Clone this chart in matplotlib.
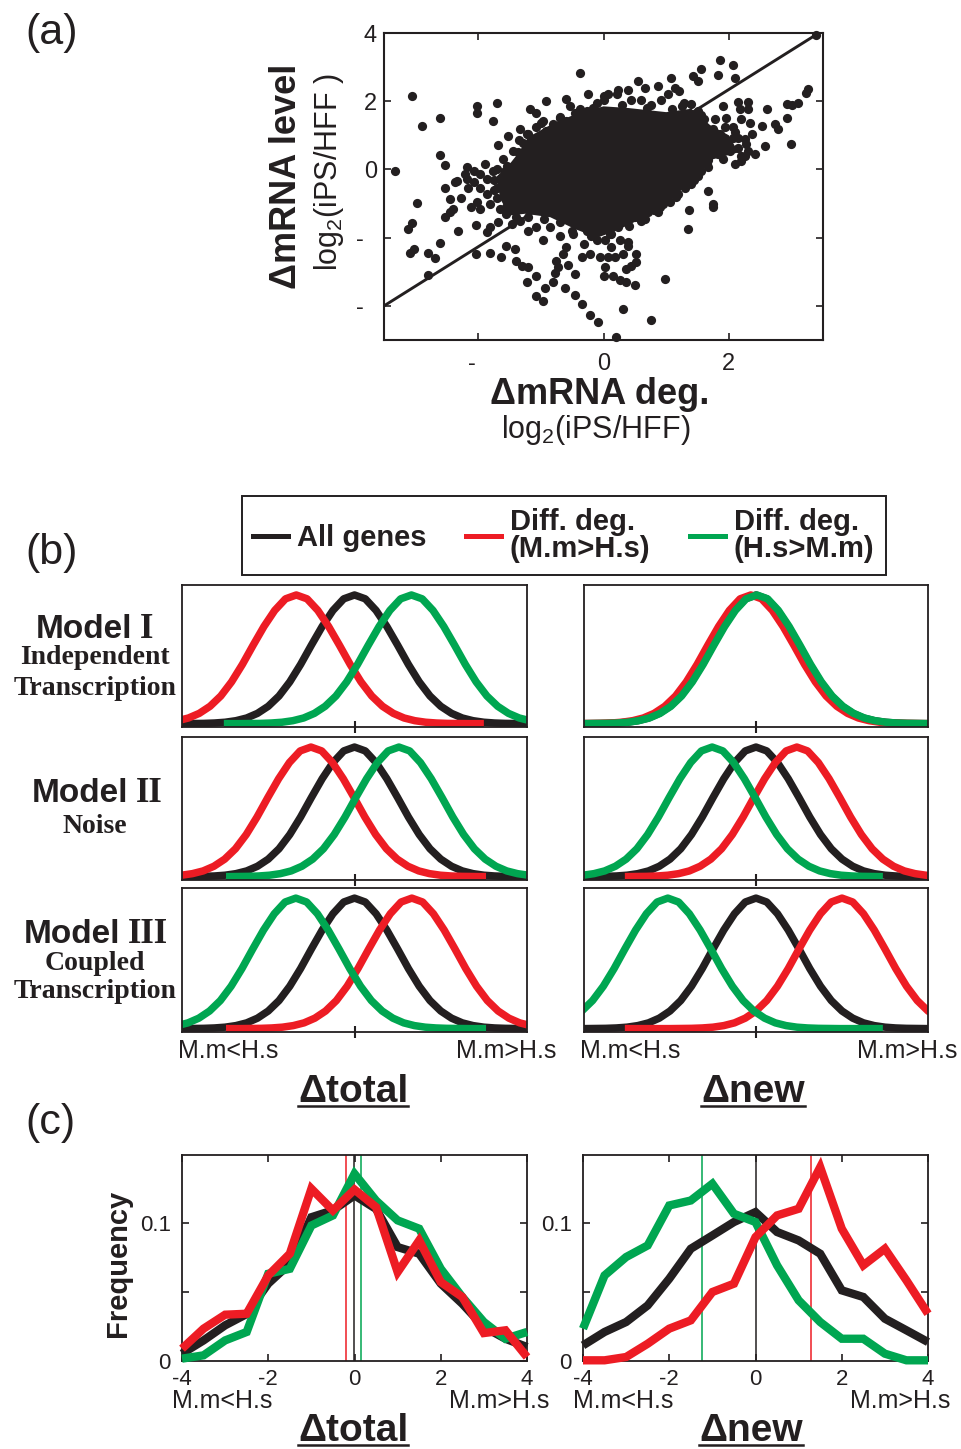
import numpy as np
import matplotlib
matplotlib.use('Agg')
import matplotlib.pyplot as plt
from matplotlib.lines import Line2D

W, H = 961, 1449
INK = '#231f20'
RED = '#ed1c24'
GREEN = '#00a651'

plt.rcParams['font.family'] = ['Liberation Sans', 'DejaVu Sans']
plt.rcParams['mathtext.fontset'] = 'custom'
plt.rcParams['mathtext.rm'] = 'Liberation Sans'
plt.rcParams['axes.unicode_minus'] = False
plt.rcParams['text.color'] = INK
plt.rcParams['axes.edgecolor'] = INK
plt.rcParams['xtick.color'] = INK
plt.rcParams['ytick.color'] = INK

# ---------------- (a) scatter: delta deg vs delta level ----------------
scatter_points = [
    (-3.33, -0.06), (-3.06, 2.15), (-2.90, 1.28), (-2.61, 1.52), (-2.61, 0.42), (-2.53, 0.13),
    (-2.98, -0.98), (-3.06, -1.57), (-3.11, -1.76), (-3.09, -2.45), (-3.02, -2.34), (-2.80, -2.45),
    (-2.69, -2.59), (-2.61, -2.16), (-2.80, -3.09), (-2.32, -1.81), (-2.53, -1.38), (-2.45, -1.26),
    (-2.45, -0.87), (-2.53, -0.55), (-2.37, -0.36), (-2.28, -0.85), (-2.17, 0.06), (-2.17, -0.28),
    (-2.16, -0.53), (-2.02, 1.86), (-2.02, 1.66), (-1.70, 1.96), (-1.76, 1.42), (-1.69, 0.71),
    (-1.52, 0.98), (-1.33, 1.18), (-1.37, 0.51), (-1.17, 1.76), (-1.07, 1.66), (-0.91, 2.02),
    (-0.96, 1.42), (-0.69, 1.50), (-0.59, 2.07), (-0.53, 1.86), (-0.37, 2.83), (-0.24, 2.20),
    (-0.37, 1.76), (0.00, 2.15), (-2.03, -1.62), (-2.03, -2.47), (-1.81, -2.46), (-1.64, -2.58),
    (-1.86, -1.82), (-1.81, -1.69), (-1.69, -1.55), (-1.55, -2.25), (-1.41, -2.33), (-1.39, -2.67),
    (-1.30, -2.84), (-1.20, -2.86), (-1.22, -3.30), (-1.07, -3.11), (-1.07, -3.72), (-0.96, -3.86),
    (-0.93, -3.49), (-0.80, -3.30), (-0.77, -3.04), (-0.76, -2.67), (-0.72, -2.86), (-0.61, -3.49),
    (-0.45, -3.69), (-0.35, -3.93), (-0.21, -4.27), (-0.08, -4.47), (-0.56, -2.81), (-0.45, -3.06),
    (-0.65, -2.47), (-0.59, -2.28), (-0.31, -2.18), (-0.35, -2.57), (-0.05, -2.57), (0.01, -3.11),
    (-2.33, -0.35), (-2.40, -1.16), (-2.12, -1.11), (-1.97, -1.16), (-1.89, 0.16), (-1.76, -0.04),
    (-2.21, -0.14), (-2.07, -0.38), (-1.97, -0.53), (-1.86, -0.72), (-2.02, -0.96), (-1.81, -1.01),
    (-1.65, -1.16), (-1.55, -1.31), (-1.70, -0.53), (-1.86, -0.29), (-1.97, -0.14), (-2.07, -0.04),
    (-1.57, -0.04), (-1.46, -1.59), (-1.33, -1.50), (-1.20, -1.79), (-1.07, -1.69), (-0.96, -2.08),
    (-0.85, -1.69), (-0.69, -1.94), (-0.48, -1.89), (-0.27, -1.79), (-0.11, -2.08), (-0.21, -2.47),
    (-1.54, 0.11), (-1.28, 0.78), (-1.22, 1.03), (-1.07, 1.23), (-0.91, 1.13), (-0.80, 1.32),
    (-0.59, 1.42), (-0.27, 1.71), (-0.16, 1.81),
    (3.39, 3.95), (1.85, 3.22), (2.07, 3.07), (2.09, 2.69), (1.83, 2.78), (1.56, 2.93),
    (1.43, 2.73), (1.50, 2.59), (1.08, 2.68), (0.87, 2.44), (0.55, 2.59), (0.66, 2.39),
    (0.39, 2.34), (0.23, 2.34), (0.07, 2.20), (1.14, 2.39), (1.21, 2.30), (1.03, 2.20),
    (2.15, 1.99), (2.30, 1.99), (1.91, 1.86), (2.18, 1.76), (2.30, 1.76), (2.60, 1.76),
    (2.92, 1.91), (3.00, 1.89), (3.10, 1.96), (3.23, 2.25), (3.26, 2.35), (2.92, 1.52),
    (2.73, 1.32), (2.78, 1.18), (2.52, 1.27), (2.33, 1.37), (2.20, 1.47), (2.36, 1.03),
    (2.57, 0.69), (2.41, 0.44), (2.25, 0.40), (2.20, 0.25), (2.09, 0.16), (2.99, 0.76),
    (1.67, -0.64), (1.75, -1.01), (1.75, -1.11), (1.37, -1.18), (1.35, -1.76), (0.98, -3.22),
    (0.76, -4.42), (0.31, -4.08), (0.20, -4.91), (0.52, -2.49), (0.52, -2.72), (0.50, -3.40),
    (0.36, -3.30), (0.26, -3.25), (0.39, -2.13), (0.39, -2.23), (0.31, -2.47), (0.18, -2.57),
    (0.07, -2.57), (0.02, -2.86), (0.36, -2.91), (0.44, -2.84), (0.15, -3.11), (0.66, -1.45),
    (0.87, -1.26), (1.06, -0.96), (1.32, 0.06), (1.51, 0.16), (1.67, 0.06), (1.77, 0.93),
    (1.95, 0.74), (2.06, 0.93),
    (0.00, 2.05), (0.21, 2.20), (0.44, 2.05), (0.60, 2.05), (0.76, 1.90), (0.92, 2.05),
    (1.29, 1.96), (1.40, 1.91), (1.51, 1.71), (1.61, 1.47), (1.77, 1.47), (1.96, 1.52),
    (1.93, 1.23), (2.06, 1.23), (2.15, 0.93), (2.28, 0.74), (2.15, 0.64), (2.01, 0.54),
    (1.83, 0.44), (1.67, 0.29), (1.51, -0.19), (1.35, -0.29), (1.40, -0.43), (1.19, -0.72),
    (1.03, -0.72), (0.90, -1.11), (0.71, -1.26), (0.50, -1.40), (0.34, -1.50), (0.23, -1.70),
    (0.12, -1.89), (0.02, -2.08), (0.26, -2.08), (0.12, -2.28),
    # ragged rim of the dense cloud
    (-1.75, -0.30), (-1.70, 0.00), (-1.60, 0.30), (-1.45, 0.55), (-1.35, 0.85), (-1.20, 1.05),
    (-1.00, 1.35), (-0.70, 1.55), (-0.45, 1.65), (-0.10, 1.95), (0.30, 1.90), (0.70, 1.80),
    (1.10, 1.78), (1.25, 1.85), (1.55, 1.60), (1.75, 1.20), (1.85, 1.05), (2.10, 1.10),
    (2.25, 0.90), (2.30, 0.55), (2.20, 0.40), (1.90, 0.30), (1.65, 0.15), (1.55, -0.05),
    (1.45, -0.30), (1.30, -0.55), (1.15, -0.80), (0.95, -1.00), (0.80, -1.20), (0.60, -1.50),
    (0.40, -1.65), (0.10, -1.90), (-0.20, -1.95), (-0.50, -1.80), (-0.70, -1.55), (-0.95, -1.45),
    (-1.20, -1.40), (-1.40, -1.40), (-1.55, -1.10), (-1.70, -0.85), (-1.75, -0.60),
]
scatter_x, scatter_y = np.array(scatter_points).T

# dense, fully overlapping centre of the cloud
core_x = [-1.70, -1.50, -1.35, -1.20, -0.85, -0.45, 0.00, 0.40, 1.00, 1.40, 1.70, 2.00, 2.15,
          1.75, 1.55, 1.30, 1.05, 0.60, 0.20, -0.10, -0.45, -0.85, -1.25, -1.50, -1.65]
core_y = [-0.20, 0.15, 0.50, 0.95, 1.30, 1.62, 1.85, 1.80, 1.68, 1.78, 1.30, 1.00, 0.50,
          0.30, -0.05, -0.50, -0.95, -1.45, -1.80, -2.00, -1.75, -1.40, -1.30, -1.35, -0.85]

fit_x = [-3.5, 3.39]
fit_y = [-4.0, 3.95]

# ---------------- (b) model sketches ----------------
bell_off = np.arange(-5, 5.001, 0.25)
bell_h = [0, 0, 0, 0, 0, 0.001, 0.002, 0.005, 0.011, 0.023, 0.044, 0.08, 0.135, 0.215, 0.325,
          0.46, 0.61, 0.755, 0.88, 0.97, 1.0, 0.97, 0.88, 0.755, 0.61, 0.46, 0.325, 0.215,
          0.135, 0.08, 0.044, 0.023, 0.011, 0.005, 0.002, 0.001, 0, 0, 0, 0, 0]
# panels: I total, I new, II total, II new, III total, III new
black_center = [0, 0, 0, 0, 0, 0]
red_center = [-1.35, -0.12, -1.01, 0.95, 1.33, 2.00]
green_center = [1.32, 0.02, 1.03, -1.02, -1.36, -2.05]
red_span = [(-5, 3.0), (-5, 5), (-5, 3.05), (-3.05, 5), (-2.98, 5), (-3.05, 5)]
green_span = [(-3.03, 5), (-5, 5), (-2.98, 5), (-5, 2.95), (-5, 3.05), (-5, 2.95)]

# ---------------- (c) measured distributions ----------------
bins = [-4, -3.5, -3, -2.5, -2, -1.5, -1, -0.5, 0, 0.5, 1, 1.5, 2, 2.5, 3, 3.5, 4]
total_all = [0.0053, 0.0149, 0.0258, 0.034, 0.056, 0.0704, 0.104, 0.109, 0.1198, 0.110, 0.0824,
             0.0776, 0.056, 0.0414, 0.0246, 0.0161, 0.0101]
total_mm = [0.0089, 0.0234, 0.0335, 0.0342, 0.0619, 0.0776, 0.1246, 0.1089, 0.124, 0.1113, 0.0643,
            0.0872, 0.0571, 0.0463, 0.0202, 0.0222, 0.0029]
total_hs = [0.0017, 0.0041, 0.0149, 0.021, 0.0631, 0.0667, 0.098, 0.1053, 0.1354, 0.116, 0.1017,
            0.0957, 0.0667, 0.0463, 0.0282, 0.0161, 0.021]
new_all = [0.0113, 0.021, 0.0282, 0.0402, 0.0595, 0.0812, 0.0908, 0.1005, 0.1077, 0.0933, 0.0872,
           0.0776, 0.0511, 0.0463, 0.0306, 0.0222, 0.0137]
new_mm = [0.0005, 0.0005, 0.0029, 0.0125, 0.0234, 0.0294, 0.0499, 0.0559, 0.0896, 0.1053, 0.1101,
          0.1402, 0.0957, 0.0692, 0.0812, 0.0583, 0.0342]
new_hs = [0.0234, 0.0619, 0.0752, 0.0836, 0.1125, 0.1161, 0.1282, 0.1065, 0.1005, 0.0692, 0.0439,
          0.0282, 0.0161, 0.0161, 0.0053, 0.0005, 0.0005]
total_means = [-0.02, -0.20, 0.14]   # all, M.m>H.s, H.s>M.m
new_means = [0.0, 1.29, -1.24]


def rect(x0, y0, x1, y1):
    return [x0 / W, 1 - y1 / H, (x1 - x0) / W, (y1 - y0) / H]


fig = plt.figure(figsize=(W / 100, H / 100), dpi=100)


def ftext(x, y, s, **kw):
    return fig.text(x / W, 1 - y / H, s, **kw)


under = []


def utext(x, y, s):
    t = ftext(x, y, s, ha='center', va='baseline', fontsize=28, fontweight='bold')
    under.append((t, y))


# ---- (a)
axa = fig.add_axes(rect(384, 33, 823, 340))
axa.fill(core_x, core_y, color=INK, lw=0, zorder=2)
axa.scatter(scatter_x, scatter_y, s=44, color=INK, lw=0, zorder=2, clip_on=False)
axa.plot(fit_x, fit_y, color=INK, lw=2.1, zorder=3)
axa.set_xlim(-3.5, 3.5)
axa.set_ylim(-5, 4)
axa.set_xticks([-2, 0, 2])
axa.set_xticklabels(['-\u2007', '0', '2'])
axa.set_yticks([-4, -2, 0, 2, 4])
axa.set_yticklabels(['-\u2007', '-\u2007', '0', '2', '4'])
axa.tick_params(direction='in', top=True, right=True, length=5, width=1.2, labelsize=17)
axa.tick_params(axis='x', pad=9)
axa.tick_params(axis='y', pad=5)
for s in axa.spines.values():
    s.set_linewidth(1.5)

ftext(25, 33, '(a)', fontsize=31, va='center', ha='left')
ftext(287, 176, '\u0394mRNA level', fontsize=26, fontweight='bold', rotation=90, ha='center', va='center')
ftext(329, 172, 'log$_\\mathregular{2}$(iPS/HFF )', fontsize=22, rotation=90, ha='center', va='center')
ftext(600, 394, '\u0394mRNA deg.', fontsize=26, fontweight='bold', ha='center', va='center')
ftext(596, 430, 'log$_\\mathregular{2}$(iPS/HFF)', fontsize=22, ha='center', va='center')

# ---- (b)
ftext(25, 553, '(b)', fontsize=31, va='center', ha='left')
b_cols = [(182, 527), (584, 928)]
b_rows = [(585, 727), (737, 880), (888, 1032)]
off = bell_off
hh = np.array(bell_h)
for i in range(6):
    r, c = divmod(i, 2)
    ax = fig.add_axes(rect(b_cols[c][0], b_rows[r][0], b_cols[c][1], b_rows[r][1]))
    curves = [(black_center[i], (-5, 5), INK),
              (red_center[i], red_span[i], RED),
              (green_center[i], green_span[i], GREEN)]
    for cen, (lo, hi), col in curves:
        x = cen + off
        keep = (x >= lo - 1e-9) & (x <= hi + 1e-9)
        xs = list(x[keep])
        ys = list(hh[keep])
        if lo > -4:
            xs = [lo] + xs
            ys = [0] + ys
        if hi < 4:
            xs = xs + [hi]
            ys = ys + [0]
        ax.plot(xs, ys, color=col, lw=5.4, solid_capstyle='butt', solid_joinstyle='round')
    ax.set_xlim(-4, 4)
    ax.set_ylim(-0.026, 1.0775)
    ax.set_xticks([0])
    ax.set_yticks([])
    ax.tick_params(axis='x', direction='inout', length=8, width=1.5, labelbottom=False)
    for s in ax.spines.values():
        s.set_linewidth(1.3)

# model names
serif = ['Liberation Serif', 'DejaVu Serif']
for right, num, base, subs in [(132, 'I', 638, [('Independent', 664), ('Transcription', 695)]),
                               (128, 'II', 802, [('Noise', 833)]),
                               (120, 'III', 943, [('Coupled', 970), ('Transcription', 998)])]:
    ftext(right, base, 'Model', fontsize=24, fontweight='bold', ha='right', va='baseline')
    ftext(right + 8, base, num, fontsize=25, fontweight='bold', family=serif, ha='left', va='baseline')
    for s, yb in subs:
        ftext(95, yb, s, fontsize=20, fontweight='bold', family=serif, ha='center', va='baseline')

for x0, x1 in b_cols:
    ftext(x0 - 4, 1058, 'M.m<H.s', fontsize=18, ha='left', va='baseline')
    ftext(x1 + 29, 1058, 'M.m>H.s', fontsize=18, ha='right', va='baseline')
utext(353, 1102, '\u0394total')
utext(753, 1102, '\u0394new')

handles = [Line2D([], [], color=INK, lw=3.6), Line2D([], [], color=RED, lw=3.6),
           Line2D([], [], color=GREEN, lw=3.6)]
labels = ['All genes', 'Diff. deg.\n(M.m>H.s)', 'Diff. deg.\n(H.s>M.m)']
leg = fig.legend(handles, labels, loc='center', bbox_to_anchor=(564 / W, 1 - 535.5 / H), ncol=3,
                 fancybox=False, edgecolor=INK, framealpha=1, handlelength=1.17, handletextpad=0.32,
                 columnspacing=1.37, borderpad=0.4, borderaxespad=0,
                 prop={'weight': 'bold', 'size': 21})
leg.get_frame().set_linewidth(1.4)
for t in leg.get_texts():
    t.set_linespacing(0.95)
    t.set_color(INK)

# ---- (c)
ftext(25, 1123, '(c)', fontsize=31, va='center', ha='left')
c_cols = [(182, 527), (583, 928)]
c_sets = [(total_all, total_mm, total_hs, total_means), (new_all, new_mm, new_hs, new_means)]
for (x0, x1), (a_, m_, h_, means) in zip(c_cols, c_sets):
    ax = fig.add_axes(rect(x0, 1155, x1, 1361))
    for pos, col in zip(means, [INK, RED, GREEN]):
        ax.axvline(pos, color=col, lw=1.1, zorder=1)
    ax.plot(bins, a_, color=INK, lw=6, solid_joinstyle='miter', solid_capstyle='butt', clip_on=False, zorder=2)
    ax.plot(bins, h_, color=GREEN, lw=6, solid_joinstyle='miter', solid_capstyle='butt', clip_on=False, zorder=3)
    ax.plot(bins, m_, color=RED, lw=6, solid_joinstyle='miter', solid_capstyle='butt', clip_on=False, zorder=4)
    ax.set_xlim(-4, 4)
    ax.set_ylim(0, 0.149)
    ax.set_xticks([-4, -2, 0, 2, 4])
    ax.set_yticks([0, 0.05, 0.1])
    ax.set_yticklabels(['0', '', '0.1'])
    ax.tick_params(direction='in', top=True, right=True, length=5, width=1.2, labelsize=16)
    ax.tick_params(axis='x', pad=6)
    ax.tick_params(axis='y', pad=8)
    for s in ax.spines.values():
        s.set_linewidth(1.3)
    ftext(x0 - 10, 1408, 'M.m<H.s', fontsize=18, ha='left', va='baseline')
    ftext(x1 + 22, 1408, 'M.m>H.s', fontsize=18, ha='right', va='baseline')

ftext(118, 1263, 'Frequency', fontsize=21, fontweight='bold', rotation=90, ha='center', va='center')
utext(353, 1441, '\u0394total')
utext(751, 1441, '\u0394new')

# underlines below the bold axis titles
rend = fig.canvas.get_renderer()
for t, yb in under:
    bb = t.get_window_extent(rend)
    yy = 1 - (yb + 4) / H
    fig.add_artist(Line2D([bb.x0 / W, bb.x1 / W], [yy, yy], transform=fig.transFigure,
                          color=INK, lw=1.8))

fig.savefig('out.png', dpi=100)
